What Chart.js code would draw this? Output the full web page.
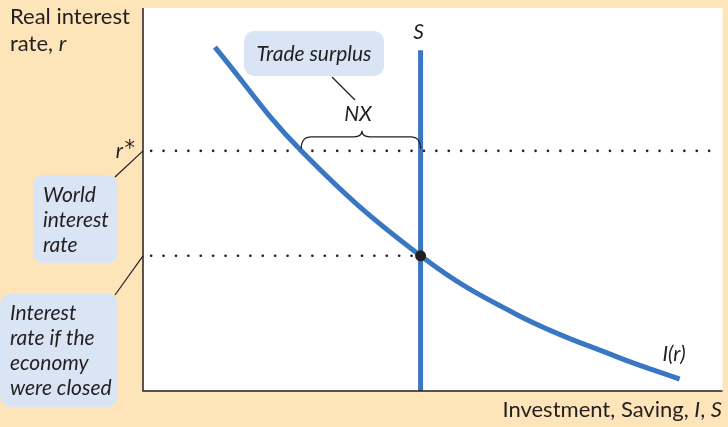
<!DOCTYPE html>
<html>
<head>
    <title>Open economy: trade surplus</title>
    <meta charset="UTF-8">
    <script src="https://cdn.jsdelivr.net/npm/chart.js"></script>
    <style>
        body { margin: 0; background: #fee4b9; }
        canvas { display: block; }
    </style>
</head>
<body>
    <canvas id="chart" width="728" height="427"></canvas>
    <script>
        // investment curve I(r) (x: 0-100, y: 0-100)
        var investX = [12.4, 27.3, 47.9, 64.7, 81.8, 92.6];
        var investY = [89.8, 62.7, 35.3, 19.8, 8.9, 3.1];
        // saving is fixed
        var savingX = 47.9;
        var savingTop = 89.0;
        // world rate and the closed-economy rate
        var worldRate = 62.7;
        var closedRate = 35.3;
        var dotStart = 1.4;
        var worldDotEnd = 98.3;
        var closedDotEnd = 47.0;
        var curveAtWorld = 27.3;

        var blue = '#3a77c2';
        var ink = '#231f20';
        var bubble = '#d9e5f5';

        var curvePts = investX.map(function (x, i) { return { x: x, y: investY[i] }; });

        // draws a line of text made of plain and italic runs
        function mixedText(ctx, parts, x, y, size, align) {
            var total = 0;
            parts.forEach(function (p) {
                ctx.font = (p[1] ? 'italic ' : '') + size + 'px Lato';
                total += ctx.measureText(p[0]).width;
            });
            var cx = align === 'right' ? x - total : x;
            ctx.textAlign = 'left';
            parts.forEach(function (p) {
                ctx.font = (p[1] ? 'italic ' : '') + size + 'px Lato';
                ctx.fillText(p[0], cx, y);
                cx += ctx.measureText(p[0]).width;
            });
        }

        function roundBox(ctx, x, y, w, h, r) {
            ctx.beginPath();
            ctx.roundRect(x, y, w, h, r);
            ctx.fillStyle = bubble;
            ctx.fill();
        }

        function leader(ctx, x1, y1, x2, y2) {
            ctx.beginPath();
            ctx.moveTo(x1, y1);
            ctx.lineTo(x2, y2);
            ctx.lineWidth = 1.2;
            ctx.strokeStyle = ink;
            ctx.stroke();
        }

        var backdrop = {
            id: 'backdrop',
            beforeDraw: function (chart) {
                var ctx = chart.ctx;
                var a = chart.chartArea;
                ctx.save();
                ctx.fillStyle = '#fee4b9';
                ctx.fillRect(0, 0, chart.width, chart.height);
                ctx.fillStyle = '#ffffff';
                ctx.fillRect(a.left, a.top, a.right - a.left, a.bottom - a.top);
                ctx.restore();
            }
        };

        var notes = {
            id: 'notes',
            afterDraw: function (chart) {
                var ctx = chart.ctx;
                var a = chart.chartArea;
                var xs = chart.scales.x;
                var ys = chart.scales.y;
                ctx.save();

                // axes
                ctx.beginPath();
                ctx.moveTo(a.left, a.top);
                ctx.lineTo(a.left, a.bottom);
                ctx.lineTo(a.right, a.bottom);
                ctx.lineWidth = 1.5;
                ctx.strokeStyle = ink;
                ctx.stroke();

                ctx.fillStyle = ink;
                ctx.textBaseline = 'middle';
                mixedText(ctx, [['Real interest', false]], 10, 17, 22);
                mixedText(ctx, [['rate, ', false], ['r', true]], 10, 44, 22);
                mixedText(ctx, [['Investment, Saving, ', false], ['I', true], [', ', false], ['S', true]], 722, 410, 22, 'right');

                var yW = ys.getPixelForValue(worldRate);
                var yC = ys.getPixelForValue(closedRate);
                var xS = xs.getPixelForValue(savingX);
                var xI = xs.getPixelForValue(curveAtWorld);

                ctx.font = 'italic 21px Lato';
                ctx.textAlign = 'right';
                ctx.fillText('r', 123, yW);
                ctx.font = '21px "DejaVu Sans"';
                ctx.fillText('*', 135, yW - 1);
                ctx.font = 'italic 21px Lato';
                ctx.textAlign = 'center';
                ctx.fillText('S', xS - 2, 32);
                ctx.fillText('NX', 358, 114);
                ctx.fillText('I(r)', 674, 354);

                // brace over NX
                var mid = (xI + xS) / 2 + 1;
                var yb = yW - 2;
                var yt = yW - 14;
                ctx.beginPath();
                ctx.moveTo(xI, yb);
                ctx.quadraticCurveTo(xI, yt, xI + 10, yt);
                ctx.lineTo(mid - 8, yt);
                ctx.quadraticCurveTo(mid, yt, mid, yt - 6);
                ctx.quadraticCurveTo(mid, yt, mid + 8, yt);
                ctx.lineTo(xS - 10, yt);
                ctx.quadraticCurveTo(xS, yt, xS, yb);
                ctx.lineWidth = 1.2;
                ctx.strokeStyle = ink;
                ctx.stroke();

                // callouts
                roundBox(ctx, 244, 31, 140, 45, 10);
                roundBox(ctx, 33, 175, 85, 88, 10);
                roundBox(ctx, 0, 293, 118, 114, 12);
                leader(ctx, 332, 77, 355, 100);
                leader(ctx, a.left, yW, 115, 177);
                leader(ctx, a.left, yC, 115, 295);

                ctx.fillStyle = ink;
                ctx.font = 'italic 21px Lato';
                ctx.textAlign = 'center';
                ctx.fillText('Trade surplus', 314, 54);
                ctx.textAlign = 'left';
                ['World', 'interest', 'rate'].forEach(function (t, i) {
                    ctx.fillText(t, 43, 195 + i * 25);
                });
                ['Interest', 'rate if the', 'economy', 'were closed'].forEach(function (t, i) {
                    ctx.fillText(t, 10, 313 + i * 25);
                });
                ctx.restore();
            }
        };

        var dotted = {
            borderColor: ink,
            borderWidth: 2.6,
            borderDash: [0.1, 12.3],
            borderCapStyle: 'round',
            pointRadius: 0,
            showLine: true,
            order: 3
        };

        var ctx = document.getElementById('chart').getContext('2d');
        var chart = new Chart(ctx, {
            type: 'scatter',
            data: {
                datasets: [
                    Object.assign({ data: [{ x: dotStart, y: worldRate }, { x: worldDotEnd, y: worldRate }] }, dotted),
                    Object.assign({ data: [{ x: dotStart, y: closedRate }, { x: closedDotEnd, y: closedRate }] }, dotted),
                    {
                        data: curvePts,
                        showLine: true,
                        borderColor: blue,
                        borderWidth: 5,
                        pointRadius: 0,
                        tension: 0.4,
                        order: 2
                    },
                    {
                        data: [{ x: savingX, y: 0 }, { x: savingX, y: savingTop }],
                        showLine: true,
                        borderColor: blue,
                        borderWidth: 5,
                        pointRadius: 0,
                        order: 2
                    },
                    {
                        data: [{ x: savingX, y: closedRate }],
                        pointRadius: 5.5,
                        pointBackgroundColor: ink,
                        pointBorderWidth: 0,
                        order: 0
                    }
                ]
            },
            options: {
                responsive: false,
                animation: false,
                events: [],
                layout: { padding: { left: 143, top: 8, right: 2, bottom: 36 } },
                plugins: { legend: { display: false }, tooltip: { enabled: false } },
                scales: {
                    x: { type: 'linear', min: 0, max: 100, display: false },
                    y: { type: 'linear', min: 0, max: 100, display: false }
                }
            },
            plugins: [backdrop, notes]
        });
    </script>
</body>
</html>
